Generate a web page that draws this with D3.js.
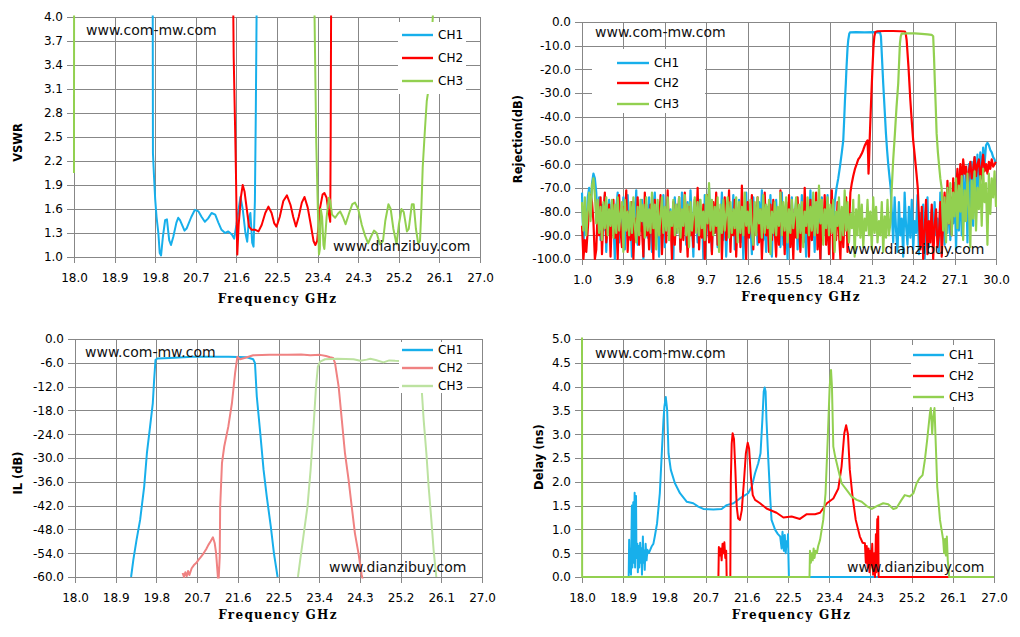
<!DOCTYPE html>
<html>
<head>
<meta charset="utf-8">
<script src="https://cdn.jsdelivr.net/npm/d3@7"></script>
<style>
	body { margin: 0; background: #fff; }
	svg { display: block; }
</style>
</head>
<body>
<svg id="chart" width="1020" height="637"></svg>
<script>
// ---- labels and ticks ----
const channels = ["CH1", "CH2", "CH3"]
const marks = ["www.com-mw.com", "www.dianzibuy.com"]
const freqTitle = "Frequency GHz"

const freqTicks = [18.0, 18.9, 19.8, 20.7, 21.6, 22.5, 23.4, 24.3, 25.2, 26.1, 27.0]
const rejFreqTicks = [1.0, 3.9, 6.8, 9.7, 12.6, 15.5, 18.4, 21.3, 24.2, 27.1, 30.0]
const vswrTicks = [1.0, 1.3, 1.6, 1.9, 2.2, 2.5, 2.8, 3.1, 3.4, 3.7, 4.0]
const rejTicks = [0, -10, -20, -30, -40, -50, -60, -70, -80, -90, -100]
const ilTicks = [0, -6, -12, -18, -24, -30, -36, -42, -48, -54, -60]
const delayTicks = [0, 0.5, 1.0, 1.5, 2.0, 2.5, 3.0, 3.5, 4.0, 4.5, 5.0]

// ---- VSWR [GHz, VSWR] ----
const vswrCh1 = [[19.7,6],[19.745,4.2],[19.75,2.3],[19.77,2.05],[19.8,1.72],[19.83,1.5],[19.87,1.3],[19.9,1.05],[19.93,1.02],[19.97,1.25],[20.02,1.46],[20.06,1.47],[20.11,1.21],[20.15,1.15],[20.2,1.25],[20.27,1.43],[20.31,1.49],[20.35,1.46],[20.45,1.33],[20.5,1.36],[20.6,1.5],[20.68,1.59],[20.76,1.57],[20.83,1.5],[20.9,1.44],[20.97,1.48],[21.05,1.55],[21.13,1.53],[21.2,1.43],[21.27,1.34],[21.35,1.3],[21.42,1.32],[21.5,1.28],[21.55,1.23],[21.6,1.4],[21.65,1.6],[21.69,1.75],[21.74,1.6],[21.8,1.3],[21.84,1.19],[21.88,1.5],[21.91,1.55],[21.95,1.18],[21.98,1.13],[22.01,1.7],[22.03,2.8],[22.05,4.2],[22.07,6]]
const vswrCh2 = [[21.5,6],[21.53,4.1],[21.54,3.5],[21.57,2.65],[21.59,2.05],[21.61,1.3],[21.62,1.03],[21.65,1.4],[21.7,1.75],[21.74,1.9],[21.78,1.82],[21.83,1.6],[21.88,1.38],[21.94,1.34],[22.02,1.34],[22.09,1.32],[22.16,1.4],[22.24,1.55],[22.31,1.63],[22.38,1.55],[22.44,1.42],[22.49,1.38],[22.56,1.5],[22.64,1.7],[22.72,1.77],[22.8,1.65],[22.86,1.5],[22.92,1.38],[22.98,1.5],[23.05,1.68],[23.11,1.75],[23.18,1.62],[23.25,1.4],[23.31,1.2],[23.35,1.15],[23.39,1.2],[23.45,1.6],[23.51,1.78],[23.55,1.8],[23.6,1.74],[23.64,1.57],[23.68,1.44],[23.69,2.5],[23.7,4.2],[23.71,6]]
const vswrCh3 = [[18.0,2.05],[18.003,6],[23.3,6],[23.33,4.1],[23.37,2.43],[23.4,1.72],[23.43,1.03],[23.45,1.1],[23.47,1.6],[23.5,1.5],[23.53,1.15],[23.55,1.1],[23.6,1.5],[23.65,1.74],[23.68,1.7],[23.72,1.53],[23.79,1.49],[23.85,1.54],[23.9,1.57],[23.96,1.5],[24.02,1.41],[24.1,1.55],[24.17,1.66],[24.23,1.68],[24.3,1.6],[24.38,1.4],[24.45,1.27],[24.52,1.17],[24.58,1.25],[24.65,1.33],[24.71,1.3],[24.78,1.16],[24.85,1.2],[24.9,1.45],[24.97,1.66],[25.02,1.6],[25.08,1.35],[25.15,1.16],[25.2,1.4],[25.26,1.6],[25.31,1.56],[25.38,1.32],[25.42,1.35],[25.49,1.66],[25.53,1.66],[25.58,1.35],[25.63,1.17],[25.67,1.2],[25.7,1.6],[25.73,2.12],[25.78,2.6],[25.82,2.95],[25.86,3.1],[25.92,3.6],[25.97,4.2],[26.0,6]]

// ---- Rejection, dB: stop-band readings every 0.1 GHz plus pass-band points ----
const rejStep = 0.1
const rejCh1Low = [
	-72,-95,-78,-90,-74,-70,-82,-68,-64,-66, -72,-86,-74,-92,-77,-88,-73,-97,-80,-75,
	-90,-76,-84,-100,-78,-72,-93,-81,-87,-74, -96,-79,-73,-89,-83,-99,-76,-85,-71,-94,
	-80,-88,-75,-100,-82,-77,-91,-74,-86,-97, -78,-72,-90,-84,-99,-76,-88,-73,-95,-81,
	-75,-92,-79,-86,-100,-74,-89,-77,-83,-96, -72,-87,-80,-94,-76,-90,-71,-85,-99,-78,
	-84,-93,-75,-88,-79,-100,-73,-91,-82,-70, -86,-97,-77,-89,-74,-95,-81,-87,-72,-92,
	-78,-99,-83,-76,-90,-85,-73,-96,-80,-88, -75,-93,-79,-100,-84,-72,-91,-77,-86,-98,
	-74,-89,-81,-94,-76,-87,-71,-92,-83,-97, -78,-85,-73,-99,-80,-90,-75,-88,-82,-95,
	-72,-94,-79,-86,-100,-77,-91,-74,-89,-83, -76,-96,-81,-88,-73,-93,-84,-99,-78,-87,
	-71,-92,-80,-97,-75,-89,-82,-100,-74,-90, -79,-86,-73,-95,-84,-77,-91]
const rejCh1Band = [[18.7,-76],[18.83,-70],[18.95,-66],[19.07,-61],[19.2,-55],[19.3,-50],[19.36,-42],[19.42,-33],[19.48,-26],[19.53,-19],[19.6,-11],[19.65,-7.6],[19.72,-5],[19.77,-4.4],[20.2,-4.3],[20.8,-4.4],[21.4,-4.3],[21.88,-4.5],[21.94,-6],[22.02,-16],[22.1,-26],[22.2,-37],[22.29,-47],[22.37,-54],[22.45,-60],[22.55,-66],[22.62,-70]]
const rejCh1High = [
	-80,-93,-74,-88,-97,-76,-90,-83,-99,-72, -86,-94,-78,-91,-75,-96,-84,-89,-73,-98,
	-81,-92,-77,-100,-85,-74,-95,-88,-79,-93, -76,-90,-83,-97,-72,-87,-80,-94,-75,-89,
	-70,-92,-78,-85,-68,-96,-74,-88,-66,-90, -64,-84,-62,-93,-60,-80,-59,-86,-57,-76,
	-56,-70,-55,-66,-53,-60,-52,-51,-52,-54, -55,-57,-58,-60]

const rejCh2Low = [
	-86,-100,-92,-97,-88,-78,-73,-76,-84,-100, -96,-79,-90,-74,-98,-82,-72,-93,-86,-77,
	-99,-81,-75,-91,-84,-100,-73,-88,-95,-78, -85,-71,-97,-80,-92,-76,-100,-83,-89,-74,
	-94,-79,-87,-99,-72,-90,-82,-96,-77,-85, -100,-75,-91,-80,-88,-73,-98,-84,-79,-93,
	-71,-89,-83,-100,-76,-94,-81,-87,-74,-97, -80,-92,-72,-86,-99,-78,-90,-84,-95,-75,
	-88,-70,-96,-82,-91,-77,-100,-85,-73,-93, -81,-98,-76,-89,-72,-94,-86,-79,-100,-83,
	-74,-92,-87,-71,-97,-80,-90,-75,-99,-84, -78,-95,-69,-88,-82,-100,-76,-91,-85,-73,
	-96,-81,-89,-74,-93,-79,-100,-86,-72,-90, -83,-97,-77,-92,-75,-88,-99,-80,-94,-71,
	-87,-84,-98,-76,-90,-73,-95,-82,-100,-79, -91,-74,-86,-97,-78,-93,-70,-89,-83,-99,
	-75,-92,-81,-88,-72,-96,-85,-100,-77,-90, -73,-94,-80,-98,-86,-71,-100,-84,-92,-76,
	-89,-100,-79,-95,-83,-74,-97,-87]
const rejCh2Band = [[19.8,-72],[19.9,-68],[20.0,-65],[20.12,-62],[20.24,-60],[20.35,-58],[20.47,-57],[20.6,-55.5],[20.7,-54],[20.82,-52],[20.94,-50.5],[21.0,-50],[21.04,-56],[21.07,-64],[21.1,-60],[21.15,-50],[21.21,-40],[21.28,-29],[21.35,-19],[21.42,-10],[21.48,-6],[21.55,-4.2],[21.7,-3.9],[22.2,-3.8],[22.8,-3.8],[23.3,-3.9],[23.62,-4.0],[23.68,-5],[23.74,-7.6],[23.87,-19],[24.0,-33],[24.1,-42],[24.2,-50],[24.32,-57],[24.43,-64],[24.52,-70]]
const rejCh2High = [
	-82,-96,-78,-100,-88,-75,-98,-84,-93,-77, -100,-86,-79,-95,-90,-76,-99,-83,-72,-88,
	-67,-85,-74,-90,-66,-80,-71,-62,-75,-60, -68,-58,-64,-61,-70,-63,-59,-66,-62,-57,
	-65,-60,-58,-67,-61,-56,-63,-60,-64,-59, -62,-58,-61,-60,-59]

const rejCh3Low = [
	-76,-88,-74,-90,-80,-72,-84,-69,-66,-73, -85,-75,-89,-78,-92,-76,-87,-74,-90,-79,
	-86,-75,-91,-77,-89,-74,-88,-81,-76,-97, -75,-88,-80,-90,-76,-89,-74,-86,-93,-78,
	-90,-75,-84,-77,-91,-74,-88,-79,-89,-72, -87,-77,-96,-75,-90,-82,-74,-89,-78,-88,
	-74,-92,-80,-86,-75,-90,-77,-89,-74,-91, -79,-86,-73,-90,-77,-95,-76,-88,-81,-74,
	-89,-76,-90,-75,-87,-80,-92,-73,-85,-68, -88,-75,-90,-78,-86,-74,-97,-77,-89,-75,
	-88,-81,-74,-91,-76,-89,-79,-87,-74,-93, -76,-89,-78,-90,-72,-86,-80,-89,-75,-88,
	-94,-76,-90,-74,-85,-79,-91,-73,-89,-77, -87,-75,-98,-80,-89,-76,-90,-78,-86,-72,
	-90,-76,-88,-74,-93,-79,-89,-75,-87,-81, -74,-91,-77,-89,-76,-95,-80,-86,-74,-90,
	-78,-88,-72,-90,-76,-89,-69,-85,-75,-94, -79,-87,-74,-90,-77,-89,-75,-97,-80,-86,
	-74,-92,-78,-90,-71,-88,-76,-93,-81,-87, -75,-99,-79,-90,-73,-91,-77,-95,-83,-88,
	-75,-90,-80,-96,-74,-89,-78,-93,-84,-90, -76,-97,-82,-91,-75,-90,-85]
const rejCh3Band = [[22.7,-70],[22.8,-58],[22.92,-47],[23.03,-36],[23.15,-26],[23.22,-16],[23.27,-9],[23.33,-6],[23.39,-4.9],[23.8,-4.8],[24.3,-4.8],[24.79,-5],[25.2,-5.2],[25.49,-5.4],[25.6,-6],[25.66,-15],[25.72,-26],[25.78,-36],[25.84,-47],[25.93,-55],[26.02,-61],[26.1,-66],[26.19,-70]]
const rejCh3High = [
	-88,-74,-93,-70,-85,-68,-90,-72,-82,-66, -87,-69,-80,-65,-92,-71,-84,-64,-78,-95,
	-67,-83,-63,-88,-70,-79,-65,-86,-62,-76, -68,-94,-64,-81,-66,-74,-63,-78]

// ---- Insertion loss [GHz, dB] ----
const ilCh1 = [[19.24,-60],[19.29,-55.7],[19.36,-50.7],[19.44,-45.6],[19.53,-37.2],[19.59,-28.8],[19.66,-22.1],[19.72,-16.2],[19.75,-10.3],[19.78,-5.3],[19.82,-4.9],[20.1,-4.8],[20.6,-4.5],[21.0,-4.5],[21.4,-4.5],[21.8,-4.6],[21.94,-5.1],[21.98,-6.1],[22.02,-14.5],[22.09,-22.9],[22.17,-33],[22.24,-39.7],[22.33,-47.3],[22.4,-54.1],[22.48,-60]]
const ilCh2 = [[20.38,-59],[20.41,-60],[20.44,-58.8],[20.47,-59.8],[20.5,-58.5],[20.53,-59.5],[20.58,-57.8],[20.63,-57],[20.68,-56.5],[20.73,-55.7],[20.78,-55],[20.84,-54.1],[20.9,-53],[20.95,-51.9],[21.0,-51],[21.05,-50],[21.09,-51.5],[21.12,-54],[21.14,-57],[21.16,-60],[21.17,-62],[21.2,-55],[21.21,-42.3],[21.25,-31.3],[21.3,-27.1],[21.39,-22.1],[21.47,-16.2],[21.54,-8.6],[21.59,-4.5],[21.65,-5.1],[21.75,-4.8],[21.94,-4.1],[22.3,-4.0],[22.7,-4.0],[23.0,-3.9],[23.2,-4.1],[23.42,-4.0],[23.55,-4.3],[23.64,-4.6],[23.71,-4.8],[23.75,-6.1],[23.83,-12],[23.9,-20.4],[23.97,-28.8],[24.05,-35.5],[24.12,-42.3],[24.19,-49],[24.27,-54.1],[24.34,-59.5],[24.37,-61]]
const ilCh3 = [[22.93,-60],[22.98,-55.7],[23.05,-49.8],[23.14,-42.3],[23.21,-33],[23.27,-22.9],[23.33,-12],[23.37,-7],[23.42,-5.7],[23.53,-5.1],[23.8,-5.0],[24.16,-5.1],[24.31,-5.5],[24.45,-5.2],[24.53,-5.0],[24.65,-5.3],[24.82,-5.9],[24.95,-5.4],[25.08,-5.5],[25.3,-5.6],[25.5,-5.6],[25.62,-6],[25.65,-9],[25.67,-13.3],[25.71,-20.4],[25.77,-28.8],[25.82,-37.2],[25.88,-45.6],[25.93,-53.2],[25.99,-60]]

// ---- Group delay [GHz, ns] ----
const delayCh1 = [[18.0,0],[19.02,0],[19.03,0.78],[19.04,0.1],[19.06,0.6],[19.07,0.05],[19.09,1.5],[19.1,0.2],[19.12,1.57],[19.13,0.3],[19.15,1.77],[19.16,0.2],[19.18,1.7],[19.19,0.4],[19.21,0.7],[19.22,0.1],[19.24,0.65],[19.25,0.2],[19.27,0.72],[19.28,0.3],[19.3,0.6],[19.31,0.05],[19.33,0.85],[19.34,0.3],[19.36,0.55],[19.37,0.15],[19.39,0.7],[19.41,0.35],[19.43,0.57],[19.46,0.5],[19.52,0.64],[19.56,0.7],[19.59,0.85],[19.64,1.13],[19.7,1.76],[19.75,2.74],[19.78,3.3],[19.8,3.58],[19.83,3.78],[19.86,3.51],[19.89,2.6],[19.94,2.25],[20.03,1.97],[20.14,1.76],[20.29,1.58],[20.43,1.55],[20.54,1.48],[20.65,1.43],[20.87,1.42],[21.05,1.43],[21.16,1.51],[21.31,1.55],[21.45,1.65],[21.63,1.76],[21.71,1.9],[21.78,2.18],[21.85,2.39],[21.9,2.6],[21.94,3.3],[21.97,3.9],[21.99,3.98],[22.01,3.9],[22.03,3.3],[22.07,2.46],[22.11,1.69],[22.14,1.2],[22.22,0.99],[22.28,0.9],[22.33,0.85],[22.36,0.6],[22.38,0.95],[22.41,0.55],[22.43,0.88],[22.45,0.5],[22.47,0.75],[22.49,0.64],[22.5,0.9],[22.51,0.4],[22.52,0],[27.0,0]]
const delayCh2 = [[18.0,0],[20.98,0],[20.99,0.63],[21.01,0.45],[21.03,0.6],[21.05,0.35],[21.07,0.7],[21.09,0.5],[21.11,0.73],[21.13,0.4],[21.15,0.55],[21.16,0],[21.24,0],[21.25,2.0],[21.27,2.8],[21.29,3.02],[21.32,2.9],[21.35,2.25],[21.38,1.48],[21.41,1.23],[21.45,1.2],[21.49,1.4],[21.54,2.04],[21.58,2.6],[21.62,2.82],[21.65,2.7],[21.69,2.1],[21.73,1.72],[21.78,1.62],[21.89,1.55],[22.03,1.44],[22.25,1.35],[22.4,1.25],[22.58,1.27],[22.76,1.22],[22.91,1.32],[23.09,1.32],[23.2,1.35],[23.35,1.55],[23.49,1.65],[23.6,1.86],[23.67,2.32],[23.73,3.02],[23.77,3.19],[23.81,3.0],[23.85,2.25],[23.91,1.69],[23.98,1.2],[24.07,0.85],[24.13,0.72],[24.18,0.71],[24.2,0.3],[24.22,0.65],[24.24,0.2],[24.26,0.6],[24.28,0.1],[24.3,0.55],[24.32,0.25],[24.34,0.7],[24.36,0.05],[24.38,0.5],[24.4,0.0],[24.42,0.9],[24.43,0.1],[24.45,1.22],[24.46,0.3],[24.47,1.27],[24.48,0],[27.0,0]]
const delayCh3 = [[18.0,6],[18.003,0],[22.97,0],[22.98,0.55],[23.0,0.3],[23.02,0.5],[23.04,0.35],[23.06,0.6],[23.08,0.4],[23.1,0.55],[23.13,0.5],[23.16,0.65],[23.2,0.78],[23.27,1.2],[23.32,1.76],[23.37,2.95],[23.41,4.0],[23.44,4.35],[23.46,4.0],[23.49,2.74],[23.53,2.53],[23.6,2.25],[23.67,1.97],[23.78,1.83],[23.89,1.69],[24.0,1.62],[24.11,1.58],[24.22,1.49],[24.33,1.43],[24.44,1.49],[24.58,1.55],[24.69,1.53],[24.8,1.43],[24.87,1.45],[24.98,1.62],[25.05,1.72],[25.16,1.69],[25.24,1.76],[25.31,1.97],[25.37,2.07],[25.44,2.14],[25.49,2.46],[25.54,2.88],[25.6,3.44],[25.62,3.55],[25.65,3.0],[25.67,3.35],[25.7,3.55],[25.73,2.74],[25.76,1.9],[25.82,1.2],[25.89,0.78],[25.91,0.5],[25.93,0.8],[25.95,0.45],[25.97,0.85],[25.99,0.35],[26.02,0],[27.0,0]]


function stopBand(start, values) {
	// spread the 0.1 GHz stop-band readings onto the frequency axis
	return values.map((v, i) => [start + i * rejStep, v])
}

const rejCh1 = [...stopBand(1.0, rejCh1Low), ...rejCh1Band, ...stopBand(22.7, rejCh1High)]
const rejCh2 = [...stopBand(1.0, rejCh2Low), ...rejCh2Band, ...stopBand(24.6, rejCh2High)]
const rejCh3 = [...stopBand(1.0, rejCh3Low), ...rejCh3Band, ...stopBand(26.3, rejCh3High)]

const config = {
	grid: "#878787",
	tickFont: "DejaVu Sans",
	tickSize: 12,
	titleFont: "DejaVu Sans",
	titleSize: 11.5,
	freqFont: "'DejaVu Serif', serif",
	freqSize: 12,
	freqSpacing: 1.3,
	markSize: 14,
	legendSize: 12,
	colours: ["#17AFEB", "#FF0000", "#92D050"],
	paleColours: ["#17AFEB", "#F08282", "#BCE2A0"],
}

const panels = [
	{
		id: "vswr",
		box: { left: 74, right: 480, top: 17, bottom: 257 },
		xDomain: [18, 27], yDomain: [1, 4],
		xTicks: freqTicks, yTicks: vswrTicks,
		yTitle: "VSWR", yTitleAt: [17.5, 142.5], xTitleAt: [277.5, 303],
		series: [vswrCh1, vswrCh2, vswrCh3], colours: config.colours, lineWidth: 2,
		legend: { box: [398, 22, 68, 72], line: [402, 433], text: 438, rows: [35, 58, 81] },
		markAt: [[86, 35], [333, 251]],
	},
	{
		id: "rejection",
		box: { left: 582, right: 996, top: 22, bottom: 259 },
		xDomain: [1, 30], yDomain: [-100, 0],
		xTicks: rejFreqTicks, yTicks: rejTicks,
		yTitle: "Rejection(dB)", yTitleAt: [518, 139], xTitleAt: [801, 301],
		series: [rejCh1, rejCh2, rejCh3], colours: config.colours, lineWidth: 2.2,
		legend: { box: [592, 49, 113, 64], line: [617, 649], text: 654, rows: [63, 83, 104] },
		markAt: [[595, 37], [847, 254]],
	},
	{
		id: "il",
		box: { left: 75, right: 482, top: 339, bottom: 577 },
		xDomain: [18, 27], yDomain: [-60, 0],
		xTicks: freqTicks, yTicks: ilTicks,
		yTitle: "IL (dB)", yTitleAt: [17.5, 473], xTitleAt: [278, 619],
		series: [ilCh1, ilCh2, ilCh3], colours: config.paleColours, lineWidth: 2,
		legend: { box: [399, 342, 68, 51], line: [402, 433], text: 438, rows: [350, 368, 386] },
		markAt: [[85, 357], [329, 572]],
	},
	{
		id: "delay",
		box: { left: 582, right: 994, top: 339, bottom: 577 },
		xDomain: [18, 27], yDomain: [0, 5],
		xTicks: freqTicks, yTicks: delayTicks,
		yTitle: "Delay (ns)", yTitleAt: [539, 457], xTitleAt: [791.5, 619],
		series: [delayCh1, delayCh2, delayCh3], colours: config.colours, lineWidth: 2,
		legend: { box: [911, 345, 67, 62], line: [913, 944], text: 949, rows: [355, 376, 397] },
		markAt: [[595, 358], [847, 572]],
	},
]

const svg = d3.select("#chart")
const fmt = v => v.toFixed(1)

panels.forEach(drawPanel)

function drawPanel(p) {
	const b = p.box
	const w = b.right - b.left
	const h = b.bottom - b.top

	const x = d3.scaleLinear().domain(p.xDomain).range([0, w])
	const y = d3.scaleLinear().domain(p.yDomain).range([h, 0])

	const g = svg.append("g")
		.attr("id", p.id)
		.attr("transform", `translate(${b.left}, ${b.top})`)

	// Grid lines double as tick marks (they poke out past the plot edge)
	g.append("g")
		.attr("class", "yaxis")
		.call(d3.axisLeft(y)
			.tickValues(p.yTicks)
			.tickFormat(fmt)
			.tickSizeInner(-w)
			.tickSizeOuter(0)
			.tickPadding(11))
		.call(styleAxis)
		.call(a => a.selectAll(".tick line").attr("x1", -7))

	g.append("g")
		.attr("class", "xaxis")
		.attr("transform", `translate(0, ${h})`)
		.call(d3.axisBottom(x)
			.tickValues(p.xTicks)
			.tickFormat(fmt)
			.tickSizeInner(-h)
			.tickSizeOuter(0)
			.tickPadding(16))
		.call(styleAxis)
		.call(a => a.selectAll(".tick line").attr("y1", 6))

	g.append("rect")
		.attr("width", w)
		.attr("height", h)
		.attr("fill", "none")
		.attr("stroke", config.grid)
		.attr("shape-rendering", "crispEdges")

	// Traces, clipped just outside the plot frame
	g.append("clipPath")
		.attr("id", `clip-${p.id}`)
		.append("rect")
		.attr("x", -1.5)
		.attr("y", -1.5)
		.attr("width", w + 3)
		.attr("height", h + 3)

	const line = d3.line()
		.x(d => x(d[0]))
		.y(d => y(d[1]))

	g.append("g")
		.attr("clip-path", `url(#clip-${p.id})`)
		.selectAll("path")
		.data(p.series)
		.join("path")
		.attr("d", line)
		.attr("fill", "none")
		.attr("stroke", (d, i) => p.colours[i])
		.attr("stroke-width", p.lineWidth)
		.attr("stroke-linejoin", "round")

	// Legend
	const lg = svg.append("g").attr("class", "legend")
	const [lx, ly, lw, lh] = p.legend.box
	lg.append("rect")
		.attr("x", lx).attr("y", ly)
		.attr("width", lw).attr("height", lh)
		.attr("fill", "#fff")
	const rows = lg.selectAll("g.row")
		.data(channels)
		.join("g")
		.attr("class", "row")
	rows.append("line")
		.attr("x1", p.legend.line[0])
		.attr("x2", p.legend.line[1])
		.attr("y1", (d, i) => p.legend.rows[i])
		.attr("y2", (d, i) => p.legend.rows[i])
		.attr("stroke", (d, i) => p.colours[i])
		.attr("stroke-width", 2.4)
	rows.append("text")
		.text(d => d)
		.attr("x", p.legend.text)
		.attr("y", (d, i) => p.legend.rows[i])
		.attr("dy", "0.36em")
		.style("font-family", config.tickFont)
		.style("font-size", `${config.legendSize}px`)

	// Axis titles
	svg.append("text")
		.text(p.yTitle)
		.attr("transform", `translate(${p.yTitleAt[0]}, ${p.yTitleAt[1]}) rotate(-90)`)
		.attr("text-anchor", "middle")
		.attr("dy", "0.36em")
		.style("font-family", config.titleFont)
		.style("font-weight", "bold")
		.style("font-size", `${config.titleSize}px`)
	svg.append("text")
		.text(freqTitle)
		.attr("x", p.xTitleAt[0])
		.attr("y", p.xTitleAt[1])
		.attr("text-anchor", "middle")
		.style("font-family", config.freqFont)
		.style("font-weight", "bold")
		.style("font-size", `${config.freqSize}px`)
		.style("letter-spacing", `${config.freqSpacing}px`)

	// Site marks
	svg.selectAll(null)
		.data(marks)
		.join("text")
		.text(d => d)
		.attr("x", (d, i) => p.markAt[i][0])
		.attr("y", (d, i) => p.markAt[i][1])
		.style("font-family", config.tickFont)
		.style("font-size", `${config.markSize}px`)
		.attr("fill", "#111")
}

function styleAxis(a) {
	a.select(".domain").remove()
	a.attr("font-family", config.tickFont)
		.attr("font-size", config.tickSize)
	a.selectAll(".tick line")
		.attr("stroke", config.grid)
		.attr("shape-rendering", "crispEdges")
	a.selectAll(".tick text").attr("fill", "#000")
}
</script>
</body>
</html>
